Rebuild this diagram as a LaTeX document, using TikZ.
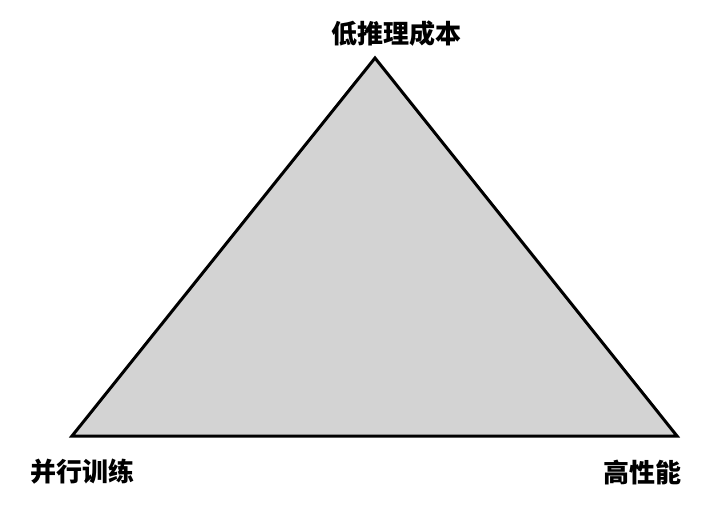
\documentclass[tikz,border=0pt]{standalone}
\usepackage{fontspec}
\newfontfamily\cjk{Noto Sans CJK SC}
\definecolor{trifill}{RGB}{211,211,211}
\tikzset{
  cornerlabels/.style={font=\fontsize{26}{30}\selectfont\cjk\bfseries, inner sep=0pt},
  triangle/.style={fill=trifill, draw=black, line width=3pt, line join=miter}
}

\begin{document}
\begin{tikzpicture}[
  x=1pt,
  y=-1pt
]
\useasboundingbox (0,0) rectangle (720,516);

\coordinate (top) at (375,58);
\coordinate (left) at (72,436);
\coordinate (right) at (677,436);

\filldraw [triangle] (top) -- (left) -- (right) -- cycle;

\foreach \n/\x/\y/\t in
                  {cost/396/34/低推理成本,
                   train/82/472/并行训练,
                   perf/642/472/高性能}
  {
   \node [cornerlabels, name=lbl-\n] at (\x,\y) {\t};
  }

\end{tikzpicture}
\end{document}
